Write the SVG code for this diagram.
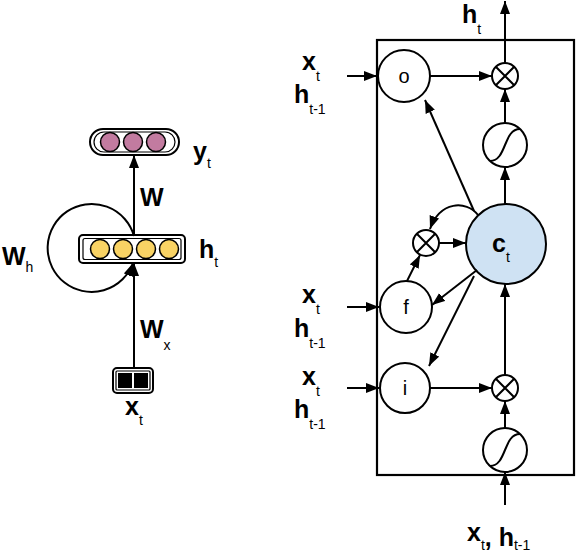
<svg xmlns="http://www.w3.org/2000/svg" width="576" height="556" viewBox="0 0 576 556">
<style>
.ln{fill:none;stroke:#000;stroke-width:2}
.nd{fill:#fff;stroke:#000;stroke-width:2}
.lab{font-family:"Liberation Sans",Arial,sans-serif;font-weight:bold;font-size:25px;fill:#000}
.sub{font-family:"Liberation Sans",Arial,sans-serif;font-weight:normal;font-size:14px}
.gl{font-family:"Liberation Sans",Arial,sans-serif;font-size:20px;fill:#000;text-anchor:middle}
.yel{fill:#f9d364;stroke:#000;stroke-width:1.5}
.pur{fill:#c27ba0;stroke:#000;stroke-width:1.5}
</style>
<defs>
<marker id="ar" markerUnits="userSpaceOnUse" markerWidth="14" markerHeight="11" refX="13" refY="5" orient="auto">
<path d="M0,0 L13,5 L0,10 z" fill="#000"/>
</marker>
</defs>
<rect width="576" height="556" fill="#fff"/>

<!-- LEFT: simple RNN -->
<g id="yt">
<rect x="90" y="129" width="89" height="26" rx="13" class="nd"/>
<rect x="94" y="132" width="81" height="20" rx="10" fill="none" stroke="#000" stroke-width="1.2"/>
<circle cx="110" cy="142" r="9.5" class="pur"/>
<circle cx="133" cy="142" r="9.5" class="pur"/>
<circle cx="156" cy="142" r="9.5" class="pur"/>
<text class="lab" x="193" y="160">y<tspan class="sub" dy="8">t</tspan></text>
</g>
<g id="ht">
<rect x="79" y="235" width="106" height="28" rx="4" class="nd"/>
<rect x="83" y="238.5" width="98" height="21" rx="2" fill="none" stroke="#000" stroke-width="1.2"/>
<circle cx="100" cy="249" r="9.5" class="yel"/>
<circle cx="123" cy="249" r="9.5" class="yel"/>
<circle cx="146" cy="249" r="9.5" class="yel"/>
<circle cx="169" cy="249" r="9.5" class="yel"/>
<text class="lab" x="199" y="258">h<tspan class="sub" dy="9">t</tspan></text>
</g>
<g id="xt">
<rect x="113" y="368" width="40" height="25" rx="4" class="nd"/>
<rect x="116" y="371" width="34" height="19" rx="1" fill="none" stroke="#000" stroke-width="1.2"/>
<rect x="118" y="373" width="14" height="15" fill="#000"/>
<rect x="134" y="373" width="14" height="15" fill="#000"/>
<text class="lab" x="125" y="415">x<tspan class="sub" dy="10">t</tspan></text>
</g>
<g id="left-labels">
<text class="lab" x="140" y="206">W</text>
<text class="lab" x="2" y="265">W<tspan class="sub" dy="7">h</tspan></text>
<text class="lab" x="140" y="338">W<tspan class="sub" dy="12">x</tspan></text>
</g>

<!-- RIGHT: LSTM cell -->
<g id="cell">
<rect x="377" y="40" width="197" height="435" fill="none" stroke="#000" stroke-width="2.2"/>
</g>
<g id="gate-o">
<circle cx="404" cy="76" r="26" class="nd"/>
<text class="gl" x="404" y="83">o</text>
<text class="lab" x="302" y="70">x<tspan class="sub" dy="11">t</tspan></text>
<text class="lab" x="294" y="103">h<tspan class="sub" dy="11">t-1</tspan></text>
</g>
<g id="gate-f">
<circle cx="406" cy="307" r="26" class="nd"/>
<text class="gl" x="406" y="314">f</text>
<text class="lab" x="302" y="303">x<tspan class="sub" dy="11">t</tspan></text>
<text class="lab" x="294" y="337">h<tspan class="sub" dy="11">t-1</tspan></text>
</g>
<g id="gate-i">
<circle cx="405" cy="388" r="25" class="nd"/>
<text class="gl" x="405" y="395">i</text>
<text class="lab" x="302" y="385">x<tspan class="sub" dy="11">t</tspan></text>
<text class="lab" x="294" y="418">h<tspan class="sub" dy="11">t-1</tspan></text>
</g>
<g id="ct">
<circle cx="506" cy="244" r="40" fill="#cfe2f3" stroke="#000" stroke-width="2"/>
<text class="lab" x="492" y="252">c<tspan class="sub" dy="10">t</tspan></text>
</g>
<g id="mul-top">
<circle cx="505" cy="76" r="13" class="nd"/>
<path d="M495.8,66.8 L514.2,85.2 M514.2,66.8 L495.8,85.2" class="ln"/>
</g>
<g id="mul-mid">
<circle cx="426" cy="243" r="13" class="nd"/>
<path d="M416.8,233.8 L435.2,252.2 M435.2,233.8 L416.8,252.2" class="ln"/>
</g>
<g id="mul-bot">
<circle cx="505" cy="388" r="13" class="nd"/>
<path d="M495.8,378.8 L514.2,397.2 M514.2,378.8 L495.8,397.2" class="ln"/>
</g>
<g id="sig-top">
<circle cx="505" cy="145" r="22" class="nd"/>
<path d="M490,161 C507,161 503,129 520,129" class="ln"/>
</g>
<g id="sig-bot">
<circle cx="505" cy="450" r="22" class="nd"/>
<path d="M490,466 C507,466 503,434 520,434" class="ln"/>
</g>
<g id="out-label">
<text class="lab" x="462" y="23">h<tspan class="sub" dy="11">t</tspan></text>
</g>
<g id="in-label">
<text class="lab" x="467" y="541">x<tspan class="sub" dy="9">t</tspan><tspan dy="-4">,</tspan> h<tspan class="sub" dy="4">t-1</tspan></text>
</g>

<g id="connectors">
<path d="M134,368 L134,263" class="ln" marker-end="url(#ar)"/>
<path d="M134,235 L134,155" class="ln" marker-end="url(#ar)"/>
<path d="M134,236 A44,44 0 1,0 133,263" class="ln" marker-end="url(#ar)"/>
<path d="M347,76 L377,76" class="ln" marker-end="url(#ar)"/>
<path d="M347,307 L379,307" class="ln" marker-end="url(#ar)"/>
<path d="M347,388 L379,388" class="ln" marker-end="url(#ar)"/>
<path d="M430,76 L492,76" class="ln" marker-end="url(#ar)"/>
<path d="M505,63 L505,1" class="ln" marker-end="url(#ar)"/>
<path d="M505,123 L505,89" class="ln" marker-end="url(#ar)"/>
<path d="M505,204 L505,167" class="ln" marker-end="url(#ar)"/>
<path d="M474,211 L425,100" class="ln" marker-end="url(#ar)"/>
<path d="M478,215 C466,200 440,201 430,229" class="ln" marker-end="url(#ar)"/>
<path d="M439,243 L466,243" class="ln" marker-end="url(#ar)"/>
<path d="M407,281 L420,255" class="ln" marker-end="url(#ar)"/>
<path d="M477,270 L432,305" class="ln" marker-end="url(#ar)"/>
<path d="M474,276 L429,366" class="ln" marker-end="url(#ar)"/>
<path d="M430,388 L492,388" class="ln" marker-end="url(#ar)"/>
<path d="M505,375 L505,284" class="ln" marker-end="url(#ar)"/>
<path d="M505,428 L505,401" class="ln" marker-end="url(#ar)"/>
<path d="M505,505 L505,472" class="ln" marker-end="url(#ar)"/>
</g>
</svg>
